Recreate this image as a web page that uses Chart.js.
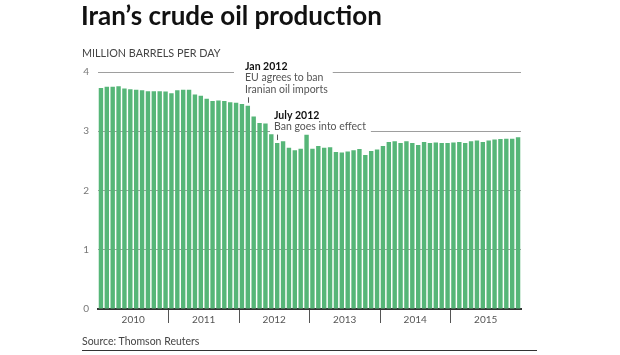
<!DOCTYPE html>
<html>
<head>
<meta charset="utf-8">
<script src="https://cdn.jsdelivr.net/npm/chart.js@4/dist/chart.umd.min.js"></script>
<style>
  html, body { margin: 0; padding: 0; background: #fff; }
  #wrap { position: relative; width: 620px; height: 355px; overflow: hidden; font-family: Lato, sans-serif; }
  #c { position: absolute; left: 0; top: 0; }
  .t { position: absolute; white-space: nowrap; line-height: 1; }
  #title { left: 81px; top: 2px; font-size: 26px; font-weight: 700; color: #111; }
  #unit { left: 82px; top: 47.5px; font-size: 10.8px; color: #444; }
  #source { left: 82px; top: 336px; font-size: 10.5px; color: #444; }
  #rule { position: absolute; left: 82px; top: 350px; width: 455px; height: 0; border-top: 1.5px solid #333; }
</style>
</head>
<body>
<div id="wrap">
  <canvas id="c" width="620" height="355"></canvas>
  <div class="t" id="title">Iran’s crude oil production</div>
  <div class="t" id="unit">MILLION BARRELS PER DAY</div>
  <div class="t" id="source">Source: Thomson Reuters</div>
  <div id="rule"></div>
</div>
<script>
// ---- data ----
const years = ['2010', '2011', '2012', '2013', '2014', '2015'];
const monthNames = ['Jan', 'Feb', 'Mar', 'Apr', 'May', 'Jun', 'Jul', 'Aug', 'Sep', 'Oct', 'Nov', 'Dec'];
const yTicks = [0, 1, 2, 3, 4];

// million barrels per day, monthly Jan 2010 - Dec 2015
const production = [
  3.73, 3.75, 3.75, 3.76, 3.72, 3.71, 3.70, 3.69, 3.675, 3.675, 3.675, 3.67,
  3.64, 3.69, 3.70, 3.70, 3.62, 3.60, 3.55, 3.51, 3.52, 3.51, 3.49, 3.48,
  3.46, 3.43, 3.25, 3.14, 3.13, 2.95, 2.80, 2.83, 2.72, 2.68, 2.705, 2.94,
  2.705, 2.75, 2.72, 2.73, 2.65, 2.64, 2.66, 2.68, 2.70, 2.60, 2.665, 2.69,
  2.75, 2.82, 2.83, 2.80, 2.83, 2.80, 2.77, 2.82, 2.80, 2.81, 2.80, 2.80,
  2.81, 2.82, 2.80, 2.83, 2.845, 2.82, 2.845, 2.86, 2.87, 2.875, 2.875, 2.90
];

// annotations
const noteIndex = [25, 30];
const noteTitles = ['Jan 2012', 'July 2012'];
const noteLines = [['EU agrees to ban', 'Iranian oil imports'], ['Ban goes into effect']];
const noteGridValue = [4, 3];
const notePadLeft = [11, 4];

// categories built from the label arrays
const categories = [];
years.forEach(yr => monthNames.forEach(m => categories.push(m + ' ' + yr)));

const GREEN = 'rgb(86,182,120)';
const FONT = 'Lato';

const notesPlugin = {
  id: 'notes',
  afterDraw(chart) {
    const { ctx, scales: { x, y } } = chart;
    ctx.save();
    noteIndex.forEach((idx, k) => {
      const cx = Math.round(x.getPixelForValue(idx)) + 0.5;
      const barTop = y.getPixelForValue(production[idx]);
      const mBottom = barTop - 3;
      const mTop = mBottom - 5.5;
      const lines = [noteTitles[k]].concat(noteLines[k]);
      const textLeft = cx - 3.5;
      const lh = 11.5;
      const lastBase = mTop - 4.5;
      let maxW = 0;
      lines.forEach((ln, i) => {
        ctx.font = (i === 0 ? '700 ' : '400 ') + '10.5px ' + FONT;
        maxW = Math.max(maxW, ctx.measureText(ln).width);
      });
      // gap in the gridline behind the text
      const gy = y.getPixelForValue(noteGridValue[k]);
      ctx.fillStyle = '#fff';
      ctx.fillRect(textLeft - notePadLeft[k], gy - 1.5, maxW + notePadLeft[k] + 5, 3);
      // marker
      ctx.strokeStyle = '#555';
      ctx.lineWidth = 1;
      ctx.beginPath();
      ctx.moveTo(cx, mTop);
      ctx.lineTo(cx, mBottom);
      ctx.stroke();
      // text
      ctx.textAlign = 'left';
      ctx.textBaseline = 'alphabetic';
      lines.forEach((ln, i) => {
        const base = lastBase - (lines.length - 1 - i) * lh;
        ctx.font = (i === 0 ? '700 ' : '400 ') + '10.5px ' + FONT;
        ctx.fillStyle = i === 0 ? '#111' : '#555';
        ctx.fillText(ln, textLeft, base);
      });
    });
    ctx.restore();
  }
};

new Chart(document.getElementById('c'), {
  type: 'bar',
  data: {
    labels: categories,
    datasets: [{
      data: production,
      backgroundColor: GREEN,
      borderWidth: 0,
      categoryPercentage: 0.75,
      barPercentage: 1
    }]
  },
  options: {
    responsive: false,
    animation: false,
    devicePixelRatio: 1,
    layout: { padding: { left: 0, right: 99, top: 72, bottom: 0 } },
    plugins: { legend: { display: false }, tooltip: { enabled: false }, title: { display: false } },
    scales: {
      x: {
        type: 'category',
        z: 1,
        afterFit: s => { s.height = 46; },
        border: { display: true, color: '#333', width: 2 },
        grid: {
          display: true,
          offset: true,
          drawOnChartArea: false,
          drawTicks: true,
          tickLength: 14,
          tickWidth: 1,
          tickColor: c => (c.index % 12 === 0 && c.index > 0 && c.index < categories.length) ? '#555' : 'rgba(0,0,0,0)',
          color: c => (c.index % 12 === 0 && c.index > 0 && c.index < categories.length) ? '#555' : 'rgba(0,0,0,0)'
        },
        ticks: {
          autoSkip: false,
          maxRotation: 0,
          minRotation: 0,
          padding: -9,
          labelOffset: -3,
          color: '#555',
          font: { family: FONT, size: 10 },
          callback: (v, i) => (i % 12 === 6) ? years[Math.floor(i / 12)] : ''
        }
      },
      y: {
        min: 0,
        max: 4,
        z: 1,
        afterFit: s => { s.width = 98; },
        afterBuildTicks: s => { s.ticks = yTicks.map(v => ({ value: v })); },
        border: { display: false },
        grid: {
          drawTicks: false,
          lineWidth: 1,
          color: c => (c.tick && c.tick.value === 0) ? 'rgba(0,0,0,0)' : 'rgba(0,0,0,0.38)'
        },
        ticks: {
          padding: 9,
          color: '#777',
          font: { family: FONT, size: 10 }
        }
      }
    }
  },
  plugins: [notesPlugin]
});
</script>
</body>
</html>
